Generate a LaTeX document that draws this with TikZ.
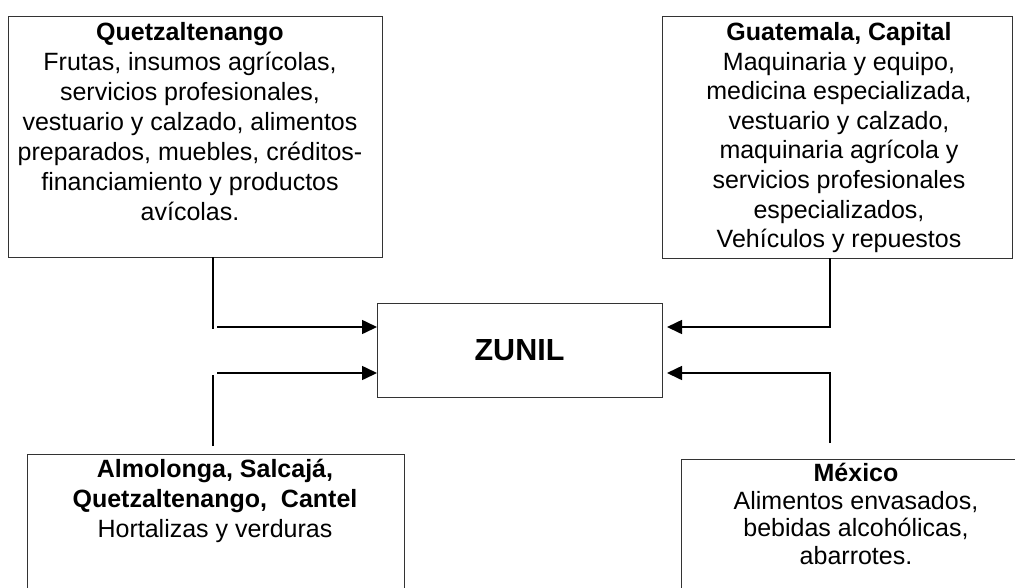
\documentclass[tikz,border=0pt]{standalone}
\usepackage{fontspec}
\setmainfont{Liberation Sans}
\usetikzlibrary{arrows.meta}
\definecolor{boxline}{HTML}{333333}
\tikzset{
  boxnode/.style={draw=boxline, line width=1pt, rectangle, inner sep=0pt, outer sep=0pt},
  txt/.style={inner sep=0pt, outer sep=0pt, align=center, anchor=north},
  plainline/.style={line width=1.6pt},
  conn/.style={line width=1.6pt, -{Triangle[length=15pt,width=14pt]}}
}
\begin{document}
\begin{tikzpicture}[x=1pt,y=-1pt]
\clip (0,0) rectangle (1015,587);
\fill[white] (0,0) rectangle (1015,587);
% boxes
\node[boxnode, minimum width=374pt, minimum height=241pt] (tl) at (195,136.5) {};
\node[boxnode, minimum width=350pt, minimum height=242pt] (tr) at (837,137) {};
\node[boxnode, minimum width=285pt, minimum height=94pt] (z) at (519.5,350) {};
\node[boxnode, minimum width=377pt, minimum height=166pt] (bl) at (215.5,537) {};
\node[boxnode, minimum width=350pt, minimum height=161pt] (br) at (856,539.5) {};
% texts
\node[txt, font=\fontsize{25}{30}\selectfont] (tltext) at (190,22.8)
  {\textbf{Quetzaltenango}\\Frutas, insumos agrícolas,\\servicios profesionales,\\vestuario y calzado, alimentos\\preparados, muebles, créditos-\\financiamiento y productos\\avícolas.};
\node[txt, font=\fontsize{25}{29.6}\selectfont] (trtext) at (839,22.3)
  {\textbf{Guatemala, Capital}\\Maquinaria y equipo,\\medicina especializada,\\vestuario y calzado,\\maquinaria agrícola y\\servicios profesionales\\especializados,\\Vehículos y repuestos};
\node[font=\fontsize{30.5}{36}\selectfont\bfseries, inner sep=0pt] (ztext) at (z.center) {ZUNIL};
\node[txt, font=\fontsize{25}{30}\selectfont] (bltext) at (215,459.5)
  {\textbf{Almolonga, Salcajá,}\\\textbf{Quetzaltenango,\ \ Cantel}\\Hortalizas y verduras};
\node[txt, font=\fontsize{25}{27.7}\selectfont] (brtext) at (856,463)
  {\textbf{México}\\Alimentos envasados,\\bebidas alcohólicas,\\abarrotes.};
% connectors
\coordinate (tlend) at (213,329);
\coordinate (tlstart) at (217,327);
\coordinate (blc) at (213,446);
\coordinate (blend) at (213,375);
\coordinate (blstart) at (217,373);
\coordinate (brc) at (830,443);
\draw[plainline] ([xshift=18pt]tl.south) -- (tlend);
\draw[conn] (tlstart) -- (tlstart -| z.west);
\draw[plainline] (blc) -- (blend);
\draw[conn] (blstart) -- (blstart -| z.west);
\draw[conn] ([xshift=-7pt]tr.south) |- ([yshift=23pt,xshift=5pt]z.east);
\draw[conn] (brc) |- ([yshift=-23pt,xshift=5pt]z.east);
\end{tikzpicture}
\end{document}
